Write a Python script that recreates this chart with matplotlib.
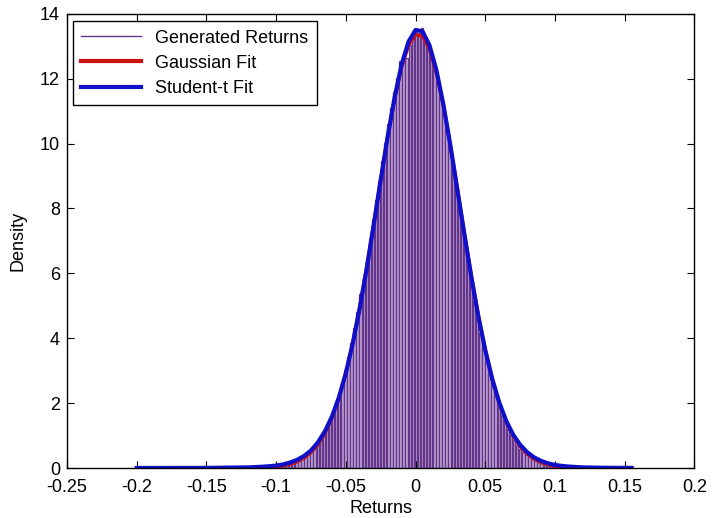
import numpy as np
import matplotlib
matplotlib.use('Agg')
import matplotlib.pyplot as plt

plt.rcParams['font.family'] = ['Liberation Sans', 'DejaVu Sans']

# histogram of generated returns (density), bins
bin_left = -0.102
bin_width = 0.0022
hist_density = [
    0.06, 0.07, 0.08, 0.10, 0.12, 0.15, 0.18, 0.22, 0.27, 0.32,
    0.38, 0.45, 0.54, 0.65, 0.77, 0.92, 1.08, 1.27, 1.49, 1.73,
    2.01, 2.31, 2.65, 3.02, 3.43, 3.86, 4.33, 4.82, 5.35, 5.90,
    6.47, 7.05, 7.65, 8.25, 8.85, 9.45, 10.02, 10.59, 11.11, 11.59,
    12.03, 12.55, 12.70, 12.63, 13.05, 13.37, 13.43, 13.41, 13.55, 13.17,
    13.10, 12.65, 12.30, 11.89, 11.43, 10.93, 10.40, 9.83, 9.25, 8.65,
    8.04, 7.44, 6.85, 6.26, 5.70, 5.16, 4.65, 4.16, 3.70, 3.28,
    2.89, 2.53, 2.20, 1.91, 1.64, 1.41, 1.20, 1.02, 0.86, 0.72,
    0.60, 0.50, 0.41, 0.34, 0.27, 0.24, 0.20, 0.16, 0.13, 0.11,
    0.09, 0.07, 0.06, 0.05,
]

# fitted densities
gauss_x = [-0.200, -0.150, -0.110, -0.100, -0.095, -0.090, -0.085, -0.080, -0.075, -0.070,
           -0.065, -0.060, -0.055, -0.050, -0.045, -0.040, -0.035, -0.030, -0.025, -0.020,
           -0.015, -0.010, -0.005, 0.000, 0.005, 0.010, 0.015, 0.020, 0.025, 0.030,
           0.035, 0.040, 0.045, 0.050, 0.055, 0.060, 0.065, 0.070, 0.075, 0.080,
           0.085, 0.090, 0.095, 0.100, 0.105, 0.120, 0.155]
gauss_y = [0.0, 0.0, 0.01, 0.039, 0.067, 0.114, 0.189, 0.303, 0.475, 0.723,
           1.07, 1.54, 2.15, 2.92, 3.86, 4.96, 6.19, 7.51, 8.88, 10.19,
           11.37, 12.34, 13.02, 13.35, 13.31, 12.91, 12.17, 11.15, 9.93, 8.60,
           7.25, 5.94, 4.72, 3.66, 2.75, 2.01, 1.43, 0.99, 0.665, 0.436,
           0.277, 0.171, 0.103, 0.060, 0.034, 0.005, 0.0]

t_x = [-0.200, -0.150, -0.120, -0.110, -0.105, -0.100, -0.095, -0.090, -0.085, -0.080,
       -0.075, -0.070, -0.065, -0.060, -0.055, -0.050, -0.045, -0.040, -0.035, -0.030,
       -0.025, -0.020, -0.015, -0.010, -0.005, 0.000, 0.005, 0.010, 0.015, 0.020,
       0.025, 0.030, 0.035, 0.040, 0.045, 0.050, 0.055, 0.060, 0.065, 0.070,
       0.075, 0.080, 0.085, 0.090, 0.095, 0.100, 0.105, 0.110, 0.120, 0.135, 0.155]
t_y = [0.001, 0.004, 0.02, 0.04, 0.055, 0.075, 0.11, 0.17, 0.25, 0.37,
       0.54, 0.79, 1.13, 1.58, 2.17, 2.92, 3.84, 4.93, 6.15, 7.49,
       8.87, 10.21, 11.42, 12.43, 13.14, 13.50, 13.46, 13.03, 12.26, 11.20,
       9.95, 8.59, 7.22, 5.90, 4.69, 3.64, 2.75, 2.03, 1.46, 1.03,
       0.72, 0.49, 0.33, 0.22, 0.145, 0.095, 0.065, 0.045, 0.02, 0.008, 0.003]

xticks = [-0.25, -0.2, -0.15, -0.1, -0.05, 0, 0.05, 0.1, 0.15, 0.2]
xtick_labels = ['-0.25', '-0.2', '-0.15', '-0.1', '-0.05', '0', '0.05', '0.1', '0.15', '0.2']
yticks = [0, 2, 4, 6, 8, 10, 12, 14]

fig = plt.figure(figsize=(7.17, 5.18), dpi=100)
ax = fig.add_axes([0.0934, 0.0965, 0.875, 0.877])

centers = bin_left + bin_width * (np.arange(len(hist_density)) + 0.5)
ax.bar(centers, hist_density, width=bin_width * 0.8, color='#bea2d2',
       edgecolor='#63358a', linewidth=0.9)

ax.plot(gauss_x, gauss_y, color='#cc1111', lw=2.4)
ax.plot(t_x, t_y, color='#1010c8', lw=3.0)

ax.set_xlim(-0.25, 0.2)
ax.set_ylim(0, 14)
ax.set_xticks(xticks)
ax.set_xticklabels(xtick_labels)
ax.set_yticks(yticks)
ax.tick_params(direction='in', top=True, right=True, labelsize=13, length=5)
ax.tick_params(axis='x', pad=8)
ax.tick_params(axis='y', pad=5)
for s in ax.spines.values():
    s.set_linewidth(1.0)

ax.set_xlabel('Returns', fontsize=13, labelpad=3)
ax.set_ylabel('Density', fontsize=13, labelpad=10)

handles = [plt.Line2D([], [], color='#63358a', lw=1.0),
           plt.Line2D([], [], color='#cc1111', lw=3.0),
           plt.Line2D([], [], color='#1010c8', lw=3.0)]
leg = ax.legend(handles, ['Generated Returns', 'Gaussian Fit', 'Student-t Fit'],
                loc='upper left', bbox_to_anchor=(0.01, 0.983), borderaxespad=0,
                fontsize=13, handlelength=3.3, labelspacing=0.45, borderpad=0.45,
                fancybox=False, framealpha=1, edgecolor='black')
leg.get_frame().set_linewidth(1.0)

fig.savefig('out.png', dpi=100)
